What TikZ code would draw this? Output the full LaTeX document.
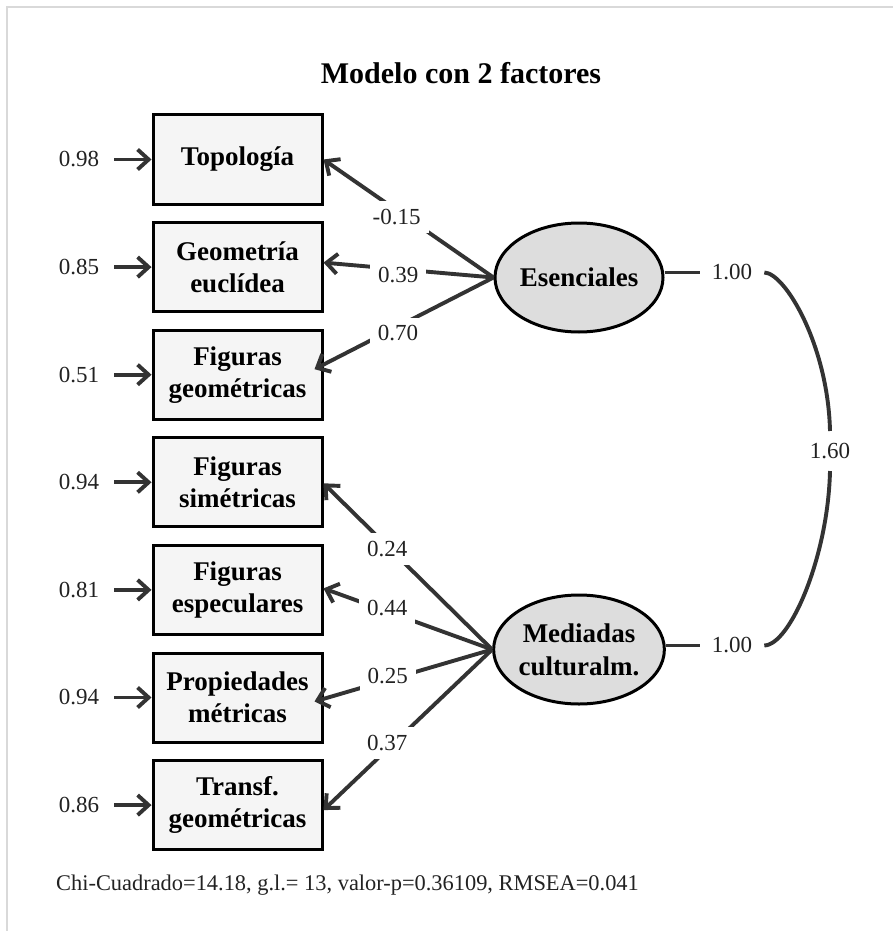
\documentclass[tikz,border=0pt]{standalone}
\usepackage{fontspec}
\setmainfont{Liberation Serif}
\usetikzlibrary{arrows.meta,shapes.geometric}
\definecolor{edgec}{HTML}{333333}
\definecolor{boxfill}{HTML}{F5F5F5}
\definecolor{latfill}{HTML}{DDDDDD}
\definecolor{framec}{HTML}{D9D9D9}
\definecolor{numc}{HTML}{222222}
\tikzset{
  obs/.style={rectangle, draw=black, line width=3pt, fill=boxfill,
    minimum width=169pt, minimum height=89pt, inner sep=0pt, align=center,
    font=\fontsize{27}{32}\selectfont\bfseries},
  lat/.style={ellipse, draw=black, line width=3pt, fill=latfill,
    minimum width=168pt, minimum height=109pt, inner sep=0pt, align=center,
    font=\fontsize{27}{33}\selectfont\bfseries},
  num/.style={inner sep=0pt, text=numc, font=\fontsize{23}{27}\selectfont},
  lab/.style={fill=white, inner sep=8pt, text=numc, font=\fontsize{23}{27}\selectfont},
  arr/.style={-{Straight Barb[length=11pt,width=20pt]}, line width=3.9pt, draw=edgec},
  cov/.style={line width=3.9pt, draw=edgec}
}
\begin{document}
\begin{tikzpicture}[x=1pt,y=-1pt]
\useasboundingbox (0,0) rectangle (893,931);
\fill[white] (0,0) rectangle (893,931);
\draw[framec, line width=1.5pt] (7,931) -- (7,7) -- (893,7);

\node[font=\fontsize{30}{34}\selectfont\bfseries] (title) at (461,73) {Modelo con 2 factores};

% observed variables
\node[obs] (b1) at (237.5,159.5) {Topología};
\node[obs] (b2) at (237.5,267.1) {Geometría\\euclídea};
\node[obs] (b3) at (237.5,374.7) {Figuras\\geométricas};
\node[obs] (b4) at (237.5,482.3) {Figuras\\simétricas};
\node[obs] (b5) at (237.5,589.9) {Figuras\\especulares};
\node[obs] (b6) at (237.5,697.5) {Propiedades\\métricas};
\node[obs] (b7) at (237.5,805.1) {Transf.\\geométricas};

% residuals
\node[num] (e1) at (79,159.5) {0.98};
\node[num] (e2) at (79,267.1) {0.85};
\node[num] (e3) at (79,374.7) {0.51};
\node[num] (e4) at (79,482.3) {0.94};
\node[num] (e5) at (79,589.9) {0.81};
\node[num] (e6) at (79,697.5) {0.94};
\node[num] (e7) at (79,805.1) {0.86};
\foreach \i in {1,...,7} {
  \draw[arr] ([xshift=15pt]e\i.east) -- (b\i.west);
}

% latent variables
\node[lat] (E) at (579,277.5) {Esenciales};
\node[lat] (M) at (579,649.5) {Mediadas\\culturalm.};

% loadings
\draw[arr] (E.west) -- node[lab, pos=.57, yshift=-7pt] {-0.15} (b1.east);
\draw[arr] (E.west) -- node[lab, pos=.56, yshift=-6pt] {0.39} ([yshift=4.5pt]b2.east);
\draw[arr] (E.west) -- node[lab, pos=.533, yshift=-7pt] {0.70} ([xshift=-9pt,yshift=5.5pt]b3.east);
\draw[arr] (M.west) -- node[lab, pos=.622, yshift=-3pt] {0.24} ([yshift=-1pt]b4.east);
\draw[arr] (M.west) -- node[lab, pos=.622, yshift=3pt] {0.44} ([yshift=1.5pt]b5.east);
\draw[arr] (M.west) -- node[lab, pos=.588, yshift=4pt] {0.25} ([xshift=-9pt,yshift=-4pt]b6.east);
\draw[arr] (M.west) -- node[lab, pos=.622, yshift=6.5pt] {0.37} ([yshift=-5pt]b7.east);

% covariance
\node[num, inner xsep=12pt] (v1) at (732,272.5) {1.00};
\node[num, inner ysep=12pt] (c12) at (830,451) {1.60};
\node[num, inner xsep=12pt] (v2) at (732,645.5) {1.00};
\draw[cov] (E.east |- v1.west) -- (v1.west);
\draw[cov] (v1.east) .. controls (785,273) and (828,345) .. (c12.north);
\draw[cov] (c12.south) .. controls (828,557) and (790,645) .. (v2.east);
\draw[cov] (M.east |- v2.west) -- (v2.west);

% fit statistics
\node[anchor=west, inner sep=0pt, text=numc, font=\fontsize{22.4}{26}\selectfont] (fit) at (56,885)
  {Chi-Cuadrado=14.18, g.l.= 13, valor-p=0.36109, RMSEA=0.041};
\end{tikzpicture}
\end{document}
